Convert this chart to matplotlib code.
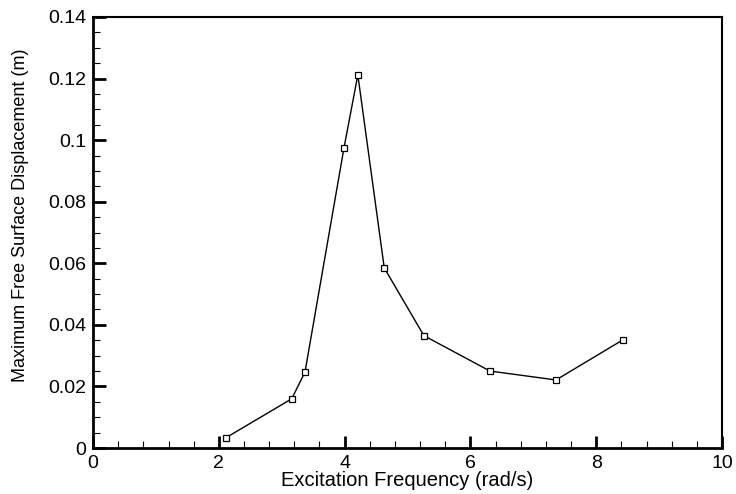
import matplotlib
matplotlib.use("Agg")
import matplotlib.pyplot as plt
from matplotlib.ticker import MultipleLocator

plt.rcParams['font.family'] = ['Liberation Sans', 'DejaVu Sans']

# excitation frequency (rad/s) vs. maximum free surface displacement (m)
freq = [2.11, 3.16, 3.37, 3.99, 4.21, 4.63, 5.26, 6.31, 7.36, 8.43]
disp = [0.0033, 0.0160, 0.0247, 0.0975, 0.1212, 0.0585, 0.0365, 0.0250, 0.0221, 0.0352]

fig = plt.figure(figsize=(7.36, 4.94), dpi=100)
ax = fig.add_axes([0.1264, 0.0931, 0.8546, 0.8725])

ax.plot(freq, disp, color='black', linewidth=1.0, marker='s', markersize=5,
        markerfacecolor='white', markeredgecolor='black', markeredgewidth=0.9)

ax.set_xlim(0, 10)
ax.set_ylim(0, 0.14)
ax.xaxis.set_major_locator(MultipleLocator(2))
ax.xaxis.set_minor_locator(MultipleLocator(0.4))
ax.yaxis.set_major_locator(MultipleLocator(0.02))
ax.yaxis.set_minor_locator(MultipleLocator(0.005))
ax.set_yticks([0, 0.02, 0.04, 0.06, 0.08, 0.1, 0.12, 0.14])
ax.set_yticklabels(['0', '0.02', '0.04', '0.06', '0.08', '0.1', '0.12', '0.14'])

ax.tick_params(which='major', direction='in', length=9, width=2, labelsize=14, pad=5)
ax.tick_params(which='minor', direction='in', length=5, width=0.8)
for side in ['left', 'bottom']:
    ax.spines[side].set_linewidth(2)
for side in ['top', 'right']:
    ax.spines[side].set_linewidth(1.5)

ax.set_xlabel('Excitation Frequency (rad/s)', fontsize=14.5, labelpad=-1)
ax.set_ylabel('Maximum Free Surface Displacement (m)', fontsize=13)
ax.yaxis.set_label_coords(-0.102, 0.54)

fig.savefig('out.png', dpi=100)
